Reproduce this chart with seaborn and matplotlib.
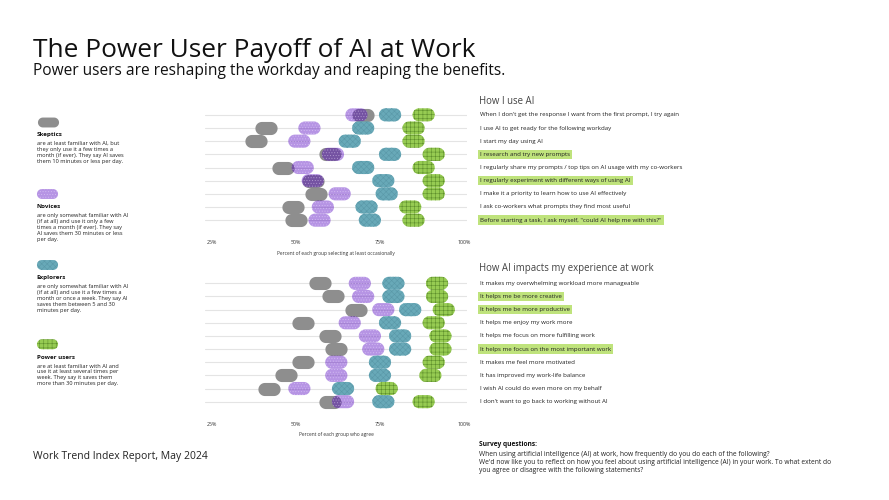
import numpy as np
import matplotlib
matplotlib.use("Agg")
import matplotlib.pyplot as plt
from matplotlib.path import Path
from matplotlib.markers import MarkerStyle
import seaborn as sns

# ---- data ----
use_labels = [
    "When I don't get the response I want from the first prompt, I try again",
    "I use AI to get ready for the following workday",
    "I start my day using AI",
    "I research and try new prompts",
    "I regularly share my prompts / top tips on AI usage with my co-workers",
    "I regularly experiment with different ways of using AI",
    "I make it a priority to learn how to use AI effectively",
    "I ask co-workers what prompts they find most useful",
    "Before starting a task, I ask myself, \"could AI help me with this?\"",
]
use_highlight = [3, 5, 8]
use_skeptics = [70, 41, 38, 60, 46, 55, 56, 49, 50]
use_novices = [68, 54, 51, 61, 52, 55, 63, 58, 57]
use_explorers = [78, 70, 66, 78, 70, 76, 77, 71, 72]
use_power = [88, 85, 85, 91, 88, 91, 91, 84, 85]

impact_labels = [
    "It makes my overwhelming workload more manageable",
    "It helps me be more creative",
    "It helps me be more productive",
    "It helps me enjoy my work more",
    "It helps me focus on more fulfilling work",
    "It helps me focus on the most important work",
    "It makes me feel more motivated",
    "It has improved my work-life balance",
    "I wish AI could do even more on my behalf",
    "I don't want to go back to working without AI",
]
impact_highlight = [1, 2, 5]
impact_skeptics = [57, 61, 68, 52, 60, 62, 52, 47, 42, 60]
impact_novices = [69, 70, 76, 66, 72, 73, 62, 62, 51, 64]
impact_explorers = [79, 79, 84, 78, 81, 81, 75, 75, 64, 76]
impact_power = [92, 92, 94, 91, 93, 93, 91, 90, 77, 88]

tick_values = [25, 50, 75, 100]
tick_labels = ["25%", "50%", "75%", "100%"]

group_names = ["Skeptics", "Novices", "Explorers", "Power users"]
group_desc = [
    ["are at least familiar with AI, but", "they only use it a few times a",
     "month (if ever). They say AI saves", "them 10 minutes or less per day."],
    ["are only somewhat familiar with AI", "(if at all) and use it only a few",
     "times a month (if ever). They say", "AI saves them 30 minutes or less",
     "per day."],
    ["are only somewhat familiar with AI", "(if at all) and use it a few times a",
     "month or once a week. They say AI", "saves them between 5 and 30",
     "minutes per day."],
    ["are at least familiar with AI and", "use it at least several times per",
     "week. They say it saves them", "more than 30 minutes per day."],
]

# ---- styles ----
sns.set_style("white")
plt.rcParams["font.family"] = ["Open Sans", "DejaVu Sans"]
plt.rcParams["hatch.linewidth"] = 0.4

styles = {
    "Skeptics": dict(color="#8e8e8e", edgecolor="#8e8e8e", hatch=None, alpha=1.0),
    "Novices": dict(color="#5200c0", edgecolor="#efe4ff", hatch="......", alpha=0.42),
    "Explorers": dict(color="#68a9b8", edgecolor="#5a98a8", hatch="xxxxxx", alpha=1.0),
    "Power users": dict(color="#96cb52", edgecolor="#5e8f2c", hatch="++++", alpha=1.0),
}


def stadium(h):
    # rounded pill outline, half-width 1, half-height h
    t = np.linspace(-np.pi / 2, np.pi / 2, 24)
    c = 1 - h
    right = np.column_stack([c + h * np.cos(t), h * np.sin(t)])
    left = np.column_stack([-c - h * np.cos(t), -h * np.sin(t)])
    verts = np.vstack([right, left, right[:1]])
    return MarkerStyle(Path(verts, closed=True))


pill = stadium(0.59)
small_pill = stadium(0.47)
PILL_S = 255

fig = plt.figure(figsize=(8.89, 5), dpi=100)


def dot_chart(ax, labels, series, xlabel):
    rows = np.arange(len(labels))
    for name, vals in zip(group_names, series):
        st = styles[name]
        sns.scatterplot(x=vals, y=rows, ax=ax, marker=pill, s=PILL_S,
                        color=st["color"], edgecolor=st["edgecolor"],
                        linewidth=0, hatch=st["hatch"], alpha=st["alpha"],
                        legend=False, zorder=3)
    ax.set_xlim(23, 101)
    ax.set_ylim(len(labels) - 1 + 0.9, -0.9)
    ax.set_yticks(rows)
    ax.set_yticklabels([])
    ax.tick_params(axis="y", length=0)
    ax.grid(axis="y", color="#e4e4e4", linewidth=0.8)
    ax.set_axisbelow(True)
    ax.set_xticks(tick_values)
    ax.set_xticklabels(tick_labels, fontsize=3.8, color="#333333")
    ax.tick_params(axis="x", length=4, width=0.5, color="#bbbbbb", pad=2)
    ax.set_xlabel(xlabel, fontsize=3.5, color="#333333", labelpad=4)
    for s in ax.spines.values():
        s.set_visible(False)
    ax.set_facecolor("none")


ax1 = fig.add_axes([205.3 / 889, (500 - 232) / 500, 262 / 889, 129 / 500])
dot_chart(ax1, use_labels,
          [use_skeptics, use_novices, use_explorers, use_power],
          "Percent of each group selecting at least occasionally")

ax2 = fig.add_axes([205.3 / 889, (500 - 413.5) / 500, 262 / 889, 142 / 500])
dot_chart(ax2, impact_labels,
          [impact_skeptics, impact_novices, impact_explorers, impact_power],
          "Percent of each group who agree")

# overlay in pixel coordinates for titles, legend and row labels
ov = fig.add_axes([0, 0, 1, 1])
ov.set_xlim(0, 889)
ov.set_ylim(500, 0)
ov.axis("off")

ov.text(33, 56.7, "The Power User Payoff of AI at Work", fontsize=18.9,
        color="#111111", va="baseline")
ov.text(33, 75, "Power users are reshaping the workday and reaping the benefits.",
        fontsize=11.2, color="#111111", va="baseline")
ov.text(33, 457, "Work Trend Index Report, May 2024", fontsize=7.5,
        color="#222222", va="center")

# group legend
legend_y = [121.7, 194, 265, 344.3]
legend_x = [47.5] * 4
for i, name in enumerate(group_names):
    st = styles[name]
    sns.scatterplot(x=[legend_x[i]], y=[legend_y[i]], ax=ov, marker=small_pill,
                    s=230, color=st["color"], edgecolor=st["edgecolor"],
                    linewidth=0, hatch=st["hatch"], alpha=st["alpha"],
                    legend=False)
    y0 = legend_y[i] + 13
    ov.text(36.7, y0, name, fontsize=4.5, fontweight="bold", color="#111111",
            va="center")
    for j, line in enumerate(group_desc[i]):
        ov.text(36.7, y0 + 8.7 + 6 * j, line, fontsize=4.1, color="#222222",
                va="center")


def row_labels(ax, labels, highlight, heading, heading_y):
    ov.text(479, heading_y, heading, fontsize=6.9, color="#444444", va="center")
    for i, lab in enumerate(labels):
        # map data row to pixel y through the chart axes
        _, ypix = ax.transData.transform((50, i))
        y = 500 - ypix
        kw = {}
        if i in highlight:
            kw["bbox"] = dict(facecolor="#bfe37c", edgecolor="none",
                              boxstyle="square,pad=0.35")
        ov.text(480, y, lab, fontsize=4.45, color="#222222", va="center", **kw)


row_labels(ax1, use_labels, use_highlight, "How I use AI", 102)
row_labels(ax2, impact_labels, impact_highlight,
           "How AI impacts my experience at work", 269)

ov.text(479, 445, "Survey questions:", fontsize=4.8, fontweight="bold",
        color="#111111", va="center")
survey = [
    "When using artificial intelligence (AI) at work, how frequently do you do each of the following?",
    "We'd now like you to reflect on how you feel about using artificial intelligence (AI) in your work. To what extent do",
    "you agree or disagree with the following statements?",
]
for j, line in enumerate(survey):
    ov.text(479, 454 + 8.2 * j, line, fontsize=4.8, color="#222222", va="center")

fig.savefig("out.png", dpi=100)
